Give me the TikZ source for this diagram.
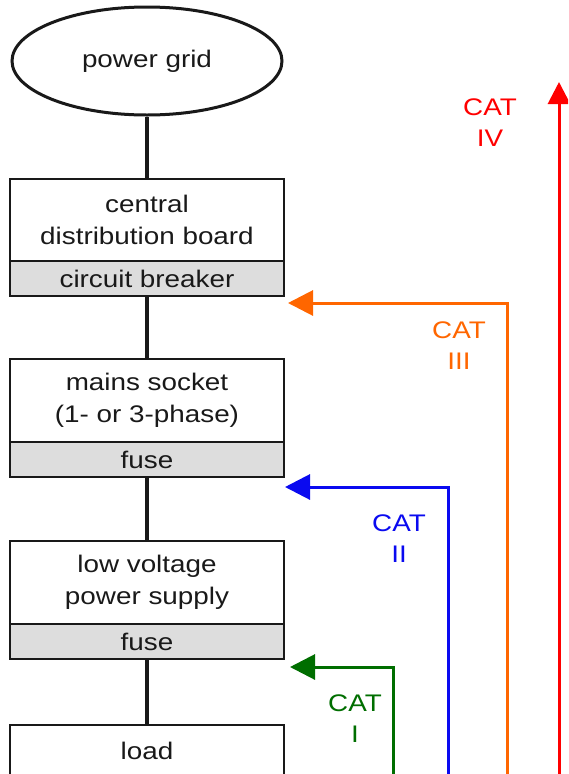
\documentclass[tikz,border=0pt]{standalone}
\usepackage{fontspec}
\setmainfont[FakeStretch=1.16]{Liberation Sans}
\usetikzlibrary{shapes.geometric,arrows.meta}
\definecolor{catred}{RGB}{255,0,0}
\definecolor{catorange}{RGB}{255,102,0}
\definecolor{catblue}{RGB}{10,10,240}
\definecolor{catgreen}{RGB}{0,110,0}
\definecolor{boxgray}{RGB}{221,221,221}
\definecolor{ink}{RGB}{25,25,25}
\tikzset{
  txt/.style={font=\fontsize{24}{32}\selectfont, text=ink},
  mainbox/.style={txt, draw=ink, line width=2pt, rectangle, minimum width=274pt, inner sep=0pt, align=center},
  graybox/.style={mainbox, fill=boxgray, minimum height=35pt},
  wire/.style={draw=ink, line width=4pt},
  catarrow/.style={line width=3pt, -{Triangle[length=25pt,width=25pt]}},
  catlabel/.style={font=\fontsize{24}{31}\selectfont, align=center},
}
\begin{document}
\begin{tikzpicture}[x=1pt,y=-1pt]
\useasboundingbox (0,0) rectangle (568,774);
\clip (0,0) rectangle (568,774);
% blocks
\node[txt, ellipse, draw=ink, line width=3pt, minimum width=270pt, minimum height=108pt, inner sep=0pt] (grid) at (147,61) {power grid};
\node[mainbox, minimum height=82pt] (cdb) at (147,220) {central\\distribution board};
\node[graybox] (cb) at (147,278.5) {circuit breaker};
\node[mainbox, minimum height=83pt] (ms) at (147,400.5) {mains socket\\(1- or 3-phase)};
\node[graybox] (f1) at (147,459.5) {fuse};
\node[mainbox, minimum height=83pt] (lv) at (147,582.5) {low voltage\\power supply};
\node[graybox] (f2) at (147,641.5) {fuse};
\node[mainbox, minimum height=52pt] (load) at (147,751) {load};
% wires
\draw[wire] (grid.south) -- (cdb.north);
\draw[wire] (cb.south) -- (ms.north);
\draw[wire] (f1.south) -- (lv.north);
\draw[wire] (f2.south) -- (load.north);
% categories
\coordinate (rbot) at (559,790);
\coordinate (rtip) at (559,82);
\coordinate (obot) at (507,790);
\coordinate (otip) at (288,303);
\coordinate (bbot) at (448,790);
\coordinate (btip) at (285,487);
\coordinate (gbot) at (393,790);
\coordinate (gtip) at (290,667);
\draw[catarrow, catred, -{Triangle[length=22pt,width=22pt]}] (rbot) -- (rtip);
\draw[catarrow, catorange] (obot) |- (otip);
\draw[catarrow, catblue] (bbot) |- (btip);
\draw[catarrow, catgreen] (gbot) |- (gtip);
\node[catlabel, text=catred] (l4) at (490,123) {CAT\\IV};
\node[catlabel, text=catorange] (l3) at (459,346) {CAT\\III};
\node[catlabel, text=catblue] (l2) at (399,539) {CAT\\II};
\node[catlabel, text=catgreen] (l1) at (355,719) {CAT\\I};
\end{tikzpicture}
\end{document}
